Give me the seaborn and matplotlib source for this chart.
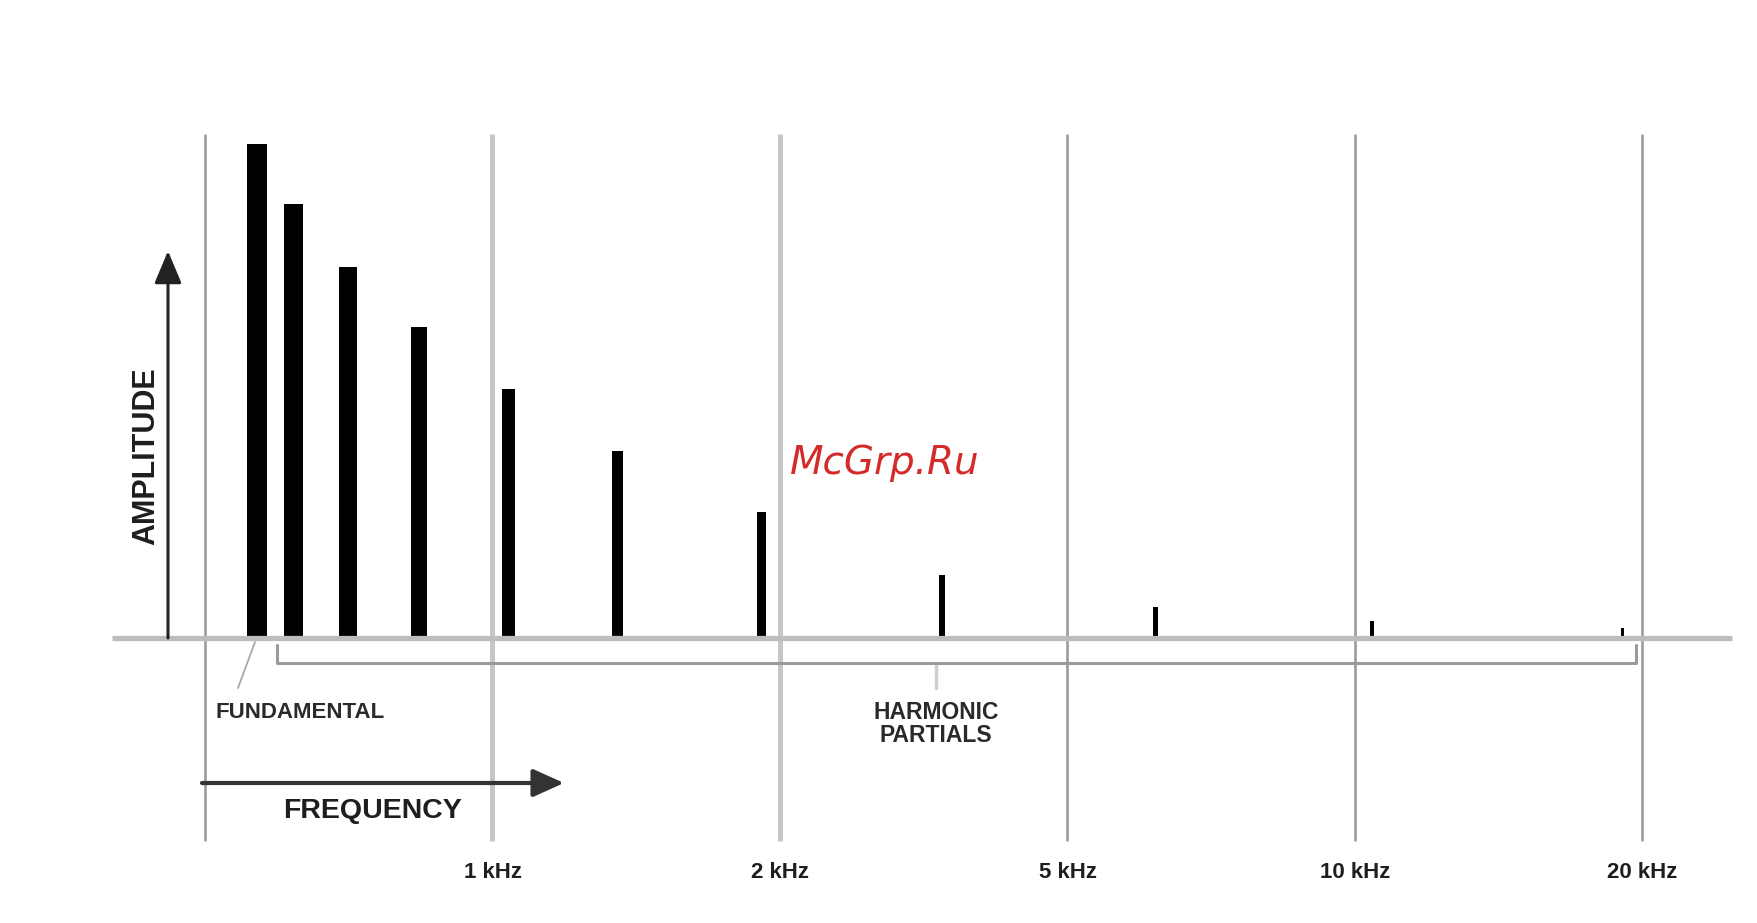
import pandas as pd
import matplotlib.pyplot as plt
import seaborn as sns

# frequency grid (one unit = one grid column, 0 is the unlabelled left line)
grid_pos = [0, 1, 2, 3, 4, 5]
grid_labels = ['', '1 kHz', '2 kHz', '5 kHz', '10 kHz', '20 kHz']

# partials: position on the grid scale and relative amplitude
partial_pos = [0.181, 0.308, 0.499, 0.745, 1.057, 1.435, 1.934, 2.562, 3.307, 4.060, 4.930]
partial_amp = [1.0, 0.878, 0.75, 0.628, 0.503, 0.379, 0.254, 0.127, 0.063, 0.034, 0.02]

# pixel layout helpers (figure is 1758x923 px)
X0, XS = 205, 287.5
Y0, YS = 638, 494.5


def px(x):
    return (x - X0) / XS


def py(y):
    return (Y0 - y) / YS


sns.set_style('white')
narrow = ['Liberation Sans', 'DejaVu Sans']
dark = '#1e1e1e'

fig = plt.figure(figsize=(17.58, 9.23), dpi=100)
ax = fig.add_axes([0, 0, 1, 1])

# partial bars
df = pd.DataFrame({'pos': partial_pos, 'amp': partial_amp})
sns.barplot(data=df, x='pos', y='amp', native_scale=True, color='black',
            saturation=1, errorbar=None, linewidth=0, ax=ax, zorder=2)
bar_px = [20, 19, 18, 16, 13, 11, 9, 6, 5, 4, 3]
for patch, w in zip(ax.patches, bar_px):
    cx = patch.get_x() + patch.get_width() / 2
    wd = w / XS
    patch.set_x(cx - wd / 2)
    patch.set_width(wd)

# vertical grid lines
light = [1, 2]
for g in grid_pos:
    if g in light:
        ax.vlines(g, py(841), py(134), color='#c6c6c6', lw=3.6, zorder=1)
    else:
        ax.vlines(g, py(841), py(134), color='#9c9c9c', lw=1.9, zorder=1)

for g, lab in zip(grid_pos, grid_labels):
    ax.text(g, py(873), lab, ha='center', va='center', fontsize=16,
            fontweight='bold', family=narrow, color=dark)

# baseline
ax.hlines(py(638), px(112), px(1732), color='#bdbdbd', lw=3.8, zorder=3)

# amplitude arrow
ax.annotate('', xy=(px(168), py(251)), xytext=(px(168), py(638)),
            arrowprops=dict(arrowstyle='-|>,head_length=1.0,head_width=0.42',
                            mutation_scale=20, color='#222222', lw=2.2,
                            shrinkA=0, shrinkB=0), zorder=4)
ax.text(px(146), py(456), 'AMPLITUDE', rotation=90, ha='center', va='center',
        fontsize=22, fontweight='bold', family=narrow, color=dark)

# frequency arrow
ax.annotate('', xy=(px(564), py(783)), xytext=(px(202), py(783)),
            arrowprops=dict(arrowstyle='-|>,head_length=1.0,head_width=0.45',
                            mutation_scale=19, color='#333333', lw=3,
                            shrinkA=0, shrinkB=0), zorder=4)
ax.text(px(373), py(811), 'FREQUENCY', ha='center', va='center',
        fontsize=20.5, fontweight='bold', family=narrow, color=dark)

# fundamental label
ax.plot([px(238), px(255)], [py(688), py(642)], color='#a8a8a8', lw=1.3)
ax.text(px(300), py(712), 'FUNDAMENTAL', ha='center', va='center',
        fontsize=16, fontweight='bold', family=narrow, color='#2a2a2a')

# harmonic partials bracket
ax.plot([px(277), px(277), px(1636), px(1636)],
        [py(645), py(663), py(663), py(645)], color='#9a9a9a', lw=2.2, zorder=3)
ax.plot([px(936), px(936)], [py(663), py(688)], color='#cfcfcf', lw=2.5)
ax.text(px(936), py(724), 'HARMONIC\nPARTIALS', ha='center', va='center',
        fontsize=16.5, fontweight='bold', family=narrow, color='#2a2a2a',
        linespacing=1.05)

# watermark
ax.text(px(885), py(463), 'McGrp.Ru', ha='center', va='center', fontsize=28,
        style='italic', color='#d42a2a', family='DejaVu Sans')

ax.set_xlim(px(0), px(1758))
ax.set_ylim(py(923), py(0))
ax.set_axis_off()

fig.savefig('out.png', dpi=100, facecolor='white')
